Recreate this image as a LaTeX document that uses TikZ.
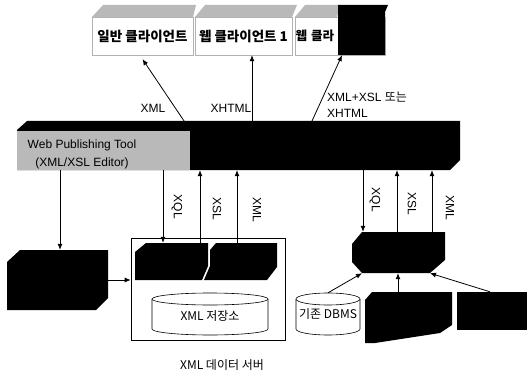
\documentclass[tikz,border=0pt]{standalone}
\usepackage{fontspec}
\setmainfont{Liberation Sans}
\newfontfamily\kr{Noto Sans CJK KR}
\usetikzlibrary{arrows.meta,calc}
\begin{document}
\begin{tikzpicture}[x=1pt,y=-1pt,
  arr/.style={-{Latex[length=6pt,width=5pt]},line width=0.8pt},
  lbl/.style={font=\fontsize{12}{14}\selectfont, inner sep=1pt},
  vlbl/.style={lbl, rotate=-90},
  krl/.style={font=\kr\fontsize{12}{14}\selectfont, inner sep=1pt},
  krb/.style={font=\kr\bfseries\fontsize{13.5}{15}\selectfont},
  area/.style={inner sep=0, minimum width=#1},
  client/.style={draw=gray!60, line width=0.4pt, fill=white, inner sep=0, minimum height=38pt},
  topface/.style={fill=gray!55},
  blk/.style={fill=black},
  cyl/.style={draw, line width=0.6pt, fill=white}
  ]
\useasboundingbox[fill=white] (0,0) rectangle (527,377);

% ---------- client boxes ----------
\fill[topface] (92,17) -- (103,5) -- (196,5) -- (193,17) -- cycle;
\fill[topface] (195,17) -- (205,5) -- (297,5) -- (292,17) -- cycle;
\fill[topface] (295,17) -- (305,5) -- (340,5) -- (337,17) -- cycle;
\node[client, minimum width=101pt, krb] (c1) at (142.5,36) {일반 클라이언트};
\node[client, minimum width=97pt, krb] (c2) at (243.5,36) {웹 클라이언트 1};
\node[client, text width=89pt, inner xsep=0.5pt, align=left, krb, font=\kr\bfseries\fontsize{12.5}{15}\selectfont] (c3) at (340,36) {웹 클라};
\fill[blk] (338,5) -- (388,5) -- (385,12) -- (385,55) -- (338,55) -- cycle;

% ---------- publishing bar ----------
\fill[blk] (17,130) -- (27,121) -- (460,121) -- (460,160) -- (450,170) -- (17,170) -- cycle;
\fill[gray!55] (17,131) rectangle (190,170);
\node[area=433pt, minimum height=40pt] (bar) at (233.5,150) {};
\node[lbl, align=center, font=\fontsize{12}{18}\selectfont] (wpt) at (82,154) {Web Publishing Tool\\(XML/XSL Editor)};

% ---------- left box ----------
\fill[blk] (7,262) -- (20,250) -- (108,250) -- (108,298) -- (96,310) -- (7,310) -- cycle;
\node[area=101pt, minimum height=60pt] (lb) at (57.5,280) {};

% ---------- XML data server ----------
\node[draw, line width=0.6pt, area=154pt, minimum height=102pt] (srv) at (208,289) {};
\fill[blk] (135,252) -- (146,243) -- (208,243) -- (208,266) -- (202,280) -- (135,280) -- cycle;
\fill[blk] (210,250) -- (216,243) -- (277,243) -- (277,267) -- (267,280) -- (204,280) -- (210,266) -- cycle;
\node[area=73pt, minimum height=37pt] (s1) at (171.5,261.5) {};
\node[area=69pt, minimum height=37pt] (s2) at (242.5,261.5) {};
\draw[cyl] (152,299) -- (152,329) arc[start angle=180, end angle=0, x radius=58, y radius=6] -- (268,299);
\draw[cyl] (210,299) ellipse[x radius=58, y radius=6];
\node[krl, area=116pt, minimum height=42pt] (rep) at (210,316) {XML 저장소};
\node[krl] (srvl) at (222,365) {XML 데이터 서버};

% ---------- right side ----------
\fill[blk] (352,244) -- (362,232) -- (445,232) -- (445,260) -- (430,273) -- (362,273) -- (352,262) -- cycle;
\node[area=93pt, minimum height=41pt] (mw) at (398.5,252.5) {};
\draw[cyl] (296,299) -- (296,329) arc[start angle=180, end angle=0, x radius=32, y radius=6] -- (360,299);
\draw[cyl] (328,299) ellipse[x radius=32, y radius=6];
\node[krl, area=64pt, minimum height=42pt] (dbms) at (328,314) {기존 DBMS};
\fill[blk] (365,300) -- (372,292) -- (452,292) -- (452,325) -- (440,333) -- (375,343) -- (365,343) -- cycle;
\node[area=87pt, minimum height=51pt] (bm) at (408.5,317.5) {};
\fill[blk] (457,292) rectangle (527,330);
\node[area=70pt, minimum height=38pt] (br) at (492,311) {};

% ---------- connectors ----------
\draw[arr] (190,0 |- bar.north) -- ([yshift=-4pt]c1.south);
\draw[arr] (252,0 |- bar.north) -- (252,0 |- c2.south);
\draw[arr] (308,0 |- bar.north) -- (342,0 |- c3.south);
\node[lbl] at (153,108) {XML};
\node[lbl] at (231,108) {XHTML};
\node[lbl, align=left, anchor=north west, font=\fontsize{12}{16}\selectfont] (l3) at (326,91) {XML+XSL {\kr 또는}\\XHTML};

\draw[arr] (60,0 |- bar.south) -- (60,0 |- lb.north);
\draw[arr] (lb.east) -- (lb.east -| srv.west);

\draw[arr] (163,0 |- bar.south) -- (163,0 |- s1.north);
\draw[arr] (200,0 |- s1.north) -- (200,0 |- bar.south);
\draw[arr] (237,0 |- s2.north) -- (237,0 |- bar.south);
\node[vlbl] at (177,207) {XQL};
\node[vlbl] at (217,209) {XSL};
\node[vlbl] at (257,210) {XML};

\draw[arr] (363,0 |- bar.south) -- (363,0 |- mw.north);
\draw[arr] (397,0 |- mw.north) -- (397,0 |- bar.south);
\draw[arr] (432,0 |- mw.north) -- (432,0 |- bar.south);
\node[vlbl] at (375,200) {XQL};
\node[vlbl] at (412,204) {XSL};
\node[vlbl] at (450,208) {XML};

\draw[arr] (dbms.north) -- (362,0 |- mw.south);
\draw[arr] (398,0 |- bm.north) -- (398,0 |- mw.south);
\draw[arr] (490,0 |- br.north) -- (430,0 |- mw.south);
\end{tikzpicture}
\end{document}
